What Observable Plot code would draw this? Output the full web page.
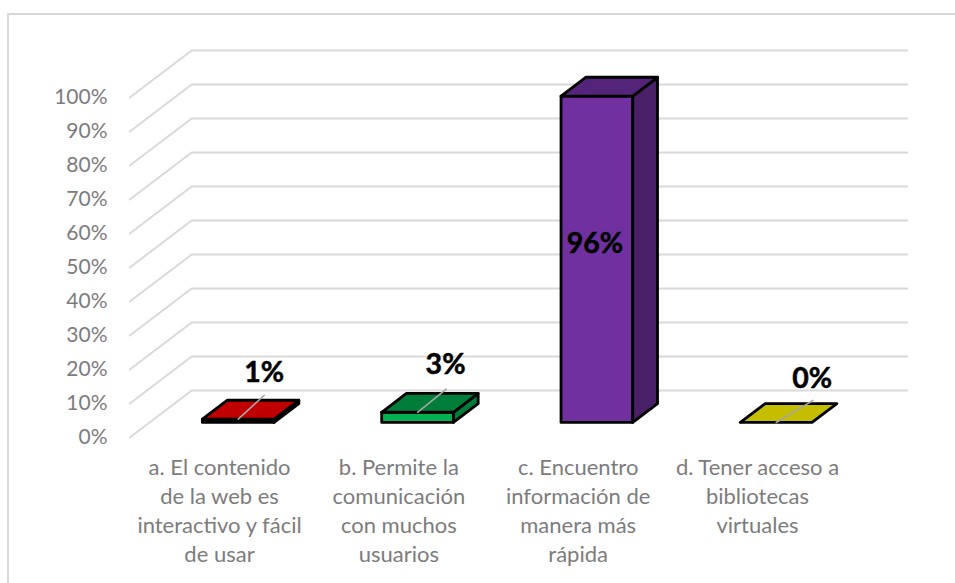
<!DOCTYPE html>
<html lang="es">
<head>
<meta charset="utf-8">
<script src="https://cdn.jsdelivr.net/npm/d3@7"></script>
<script src="https://cdn.jsdelivr.net/npm/@observablehq/plot@0.6"></script>
<style>
  html, body { margin: 0; padding: 0; width: 955px; height: 583px; overflow: hidden; background: #fff; }
  #frame { position: absolute; left: 7px; top: 13px; width: 960px; height: 600px;
           border-left: 2px solid #d9d9d9; border-top: 2px solid #d9d9d9; box-sizing: border-box; }
  #chart { position: absolute; left: 0; top: 0; }
  svg { display: block; }
</style>
</head>
<body>
<div id="frame"></div>
<div id="chart"></div>
<script>
// Data
const categories = [
  "a. El contenido\nde la web es\ninteractivo y fácil\nde usar",
  "b. Permite la\ncomunicación\ncon muchos\nusuarios",
  "c. Encuentro\ninformación de\nmanera más\nrápida",
  "d. Tener acceso a\nbibliotecas\nvirtuales"
];
const values = [1, 3, 96, 0];
const valueLabels = ["1%", "3%", "96%", "0%"];
const yTicks = [0, 10, 20, 30, 40, 50, 60, 70, 80, 90, 100];

// Styles
const faceColors = [
  {front: "#1f0000", top: "#c00000", side: "#7f0000"},
  {front: "#00b050", top: "#007e39", side: "#007e39"},
  {front: "#7030a0", top: "#54247a", side: "#4a2069"},
  {front: "#c4bd00", top: "#c4bd00", side: "#8f8a00"}
];
// Leader line length (category units, percent units) and label offset in pixels
const labelStyle = [
  {lx: 0.145, ly: 7.0, dx: 26, dy: -46},
  {lx: 0.160, ly: 6.8, dx: 28, dy: -47},
  {inside: true, dx: -2, dy: -15},
  {lx: 0.205, ly: 6.5, dx: 36, dy: -44}
];

// 3D projection, expressed in scale units
const depthX = 0.345;   // floor depth along x (categories)
const depthY = 13.82;   // floor depth along y (percent)
const barStart = 0.32;  // fraction of the depth where the bar front stands
const barDepth = 0.40;  // fraction of the depth the bar occupies
const barHalf = 0.2;    // half of bar width (categories)
const barShift = -0.006; // slight x nudge of the bars (categories)
const xLeft = -0.5, xRight = 3.49;

const proj = (cx, v, t) => ({x: cx + t * depthX, y: v + t * depthY});

const gridLines = yTicks.flatMap(v => [
  {v, ...proj(xLeft, v, 0)},
  {v, ...proj(xLeft, v, 1)},
  {v, ...proj(xRight, v, 1)}
]);

function barFaces(i) {
  const v = values[i], a = i + barShift - barHalf, b = i + barShift + barHalf;
  const t0 = barStart, t1 = barStart + barDepth;
  const faces = [];
  if (v > 0) {
    faces.push({fill: faceColors[i].front, pts: [proj(a,0,t0), proj(b,0,t0), proj(b,v,t0), proj(a,v,t0), proj(a,0,t0)]});
    faces.push({fill: faceColors[i].side, pts: [proj(b,0,t0), proj(b,0,t1), proj(b,v,t1), proj(b,v,t0), proj(b,0,t0)]});
  }
  faces.push({fill: faceColors[i].top, pts: [proj(a,v,t0), proj(b,v,t0), proj(b,v,t1), proj(a,v,t1), proj(a,v,t0)]});
  return faces;
}

const faceMarks = categories.flatMap((_, i) => barFaces(i).map(f =>
  Plot.line(f.pts, {x: "x", y: "y", fill: f.fill, stroke: "#000", strokeWidth: 2.8,
                    strokeLinejoin: "round", curve: "linear"})
));

const valueText = {x: "x", y: "y", text: "t", fontSize: 28.5, fontWeight: 700, fill: "#000", stroke: "#000", strokeWidth: 0.5};

const labelMarks = categories.flatMap((_, i) => {
  const s = labelStyle[i];
  const base = proj(i + barShift, values[i], barStart);
  const out = [];
  if (s.inside) {
    out.push(Plot.text([{...proj(i + barShift, values[i] / 2, barStart), t: valueLabels[i]}], {
      ...valueText, dx: s.dx, dy: s.dy
    }));
  } else {
    out.push(Plot.line([base, {x: base.x + s.lx, y: base.y + s.ly}], {
      x: "x", y: "y", stroke: "#a6a6a6", strokeWidth: 1.6
    }));
    out.push(Plot.text([{...base, t: valueLabels[i]}], {
      ...valueText, dx: s.dx, dy: s.dy
    }));
  }
  return out;
});

const chart = Plot.plot({
  width: 955,
  height: 583,
  marginLeft: 110,
  marginRight: 0,
  marginTop: 0,
  marginBottom: 140,
  style: {fontFamily: "Lato, Carlito, sans-serif", background: "transparent", overflow: "visible"},
  x: {domain: [0, 3], range: [219, 757], axis: null},
  y: {domain: [0, 100], range: [437, 97], axis: null},
  marks: [
    Plot.line(gridLines, {x: "x", y: "y", z: "v", stroke: "#d9d9d9", strokeWidth: 2, curve: "linear"}),
    Plot.axisY({anchor: "left", ticks: yTicks, tickFormat: d => d + "%", tickSize: 0, tickPadding: 3,
                fontSize: 21, fill: "#7c7c7c", label: null}),
    Plot.axisX({anchor: "bottom", ticks: [0, 1, 2, 3], tickFormat: i => categories[i], tickSize: 0, tickPadding: 11,
                fontSize: 22, fill: "#7c7c7c", lineHeight: 1.32, label: null, lineAnchor: "top", textOverflow: null}),
    ...faceMarks,
    ...labelMarks
  ]
});
document.getElementById("chart").appendChild(chart);
</script>
</body>
</html>
